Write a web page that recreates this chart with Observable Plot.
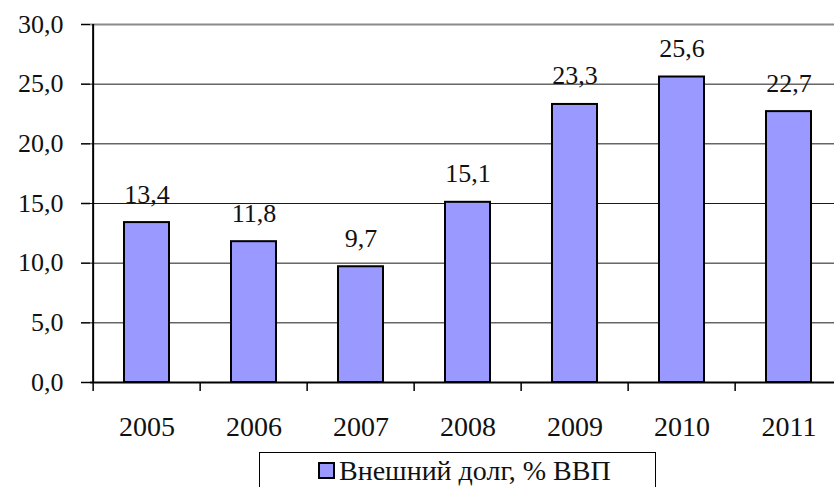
<!DOCTYPE html>
<html>
<head>
<meta charset="utf-8">
<script src="https://cdn.jsdelivr.net/npm/d3@7"></script>
<script src="https://cdn.jsdelivr.net/npm/@observablehq/plot@0.6"></script>
<style>
  body { margin: 0; padding: 0; background: #fff; }
</style>
</head>
<body>
<div id="chart"></div>
<div id="legend" style="margin-left:259px;width:397px;height:35px;box-sizing:border-box;border:1px solid #000;border-bottom:none;font-family:'Liberation Serif','Times New Roman',serif;font-size:28px;color:#111;padding-left:58px;padding-top:2px;white-space:nowrap"><span style="display:inline-block;width:13px;height:13px;background:#9999FF;border:2px solid #000;margin-right:4px;vertical-align:1px"></span>Внешний долг, % ВВП</div>
<script>
const years = ["2005", "2006", "2007", "2008", "2009", "2010", "2011"];
const debt = [13.4, 11.8, 9.7, 15.1, 23.3, 25.6, 22.7];
const yTicks = [0, 5, 10, 15, 20, 25, 30];
const seriesName = "Внешний долг, % ВВП";

const data = years.map((y, i) => ({year: y, value: debt[i]}));
const fmt = v => d3.format(".1f")(v).replace(".", ",");

const x0 = 90, x1 = 844;
const step = (x1 - x0) / years.length;
const serifStack = "'Liberation Serif','Times New Roman',serif";

const plot = Plot.plot({
  width: 834,
  height: 452,
  marginLeft: 90,
  marginRight: 0,
  marginTop: 24,
  marginBottom: 70,
  x: {type: "band", domain: years, range: [x0, x1], paddingInner: 0.58, paddingOuter: 0.29, label: null},
  y: {domain: [0, 30], range: [382, 24], label: null},
  marks: [
    Plot.ruleY(yTicks.filter(t => t > 0 && t < 30), {stroke: "#1a1a1a", strokeWidth: 1}),
    Plot.ruleY([30], {stroke: "#8a8a8a", strokeWidth: 2}),
    Plot.barY(data, {x: "year", y: "value", fill: "#9999FF", stroke: "#000", strokeWidth: 2}),
    Plot.ruleX([years[0]], {x: d => d, dx: -step / 2, y1: 0, y2: 30, stroke: "#000", strokeWidth: 2}),
    Plot.ruleY([0], {stroke: "#000", strokeWidth: 2}),
    Plot.ruleX(years, {x: d => d, dx: -step / 2, y1: 0, y2: -0.75, stroke: "#000", strokeWidth: 1.5}),
    Plot.axisY({ticks: yTicks, tickSize: 9, tickPadding: 18, tickFormat: fmt, fontSize: 26,
      stroke: "#000", strokeWidth: 1.5, fill: "#111", label: null, fontVariant: "normal"}),
    Plot.axisX({tickSize: 0, tickPadding: 34, fontSize: 28, fill: "#111", label: null, fontVariant: "normal"}),
    Plot.text(data, {x: "year", y: "value", text: d => fmt(d.value), dy: -20, lineAnchor: "bottom",
      fontSize: 26, fill: "#111"})
  ]
});
plot.removeAttribute("font-family");
plot.style.display = "block";
plot.setAttribute("style", "display:block;font-family:" + serifStack);
plot.querySelectorAll("g").forEach(g => g.removeAttribute("font-variant"));
plot.querySelectorAll("text").forEach(t => {
  t.removeAttribute("font-variant");
  t.setAttribute("font-family", "Liberation Serif");
  t.style.fontFamily = serifStack;
});
document.getElementById("chart").appendChild(plot);
</script>
</body>
</html>
